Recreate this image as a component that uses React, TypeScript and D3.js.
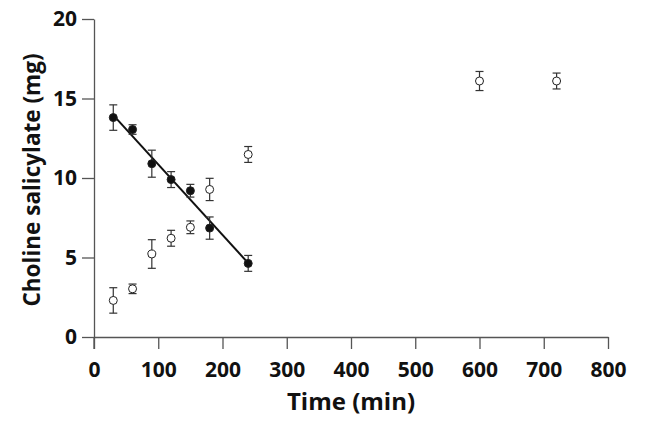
import { useEffect, useRef } from "react";
import * as d3 from "d3";

// time points (min)
const fedTimes = [30, 60, 90, 120, 150, 180, 240];
const fedValues = [13.8, 13.05, 10.9, 9.9, 9.2, 6.85, 4.63];
const fedErrors = [0.8, 0.3, 0.85, 0.5, 0.4, 0.7, 0.5];

const openTimes = [30, 60, 90, 120, 150, 180, 240, 600, 720];
const openValues = [2.3, 3.03, 5.22, 6.21, 6.9, 9.28, 11.48, 16.1, 16.1];
const openErrors = [0.8, 0.3, 0.9, 0.5, 0.4, 0.7, 0.5, 0.6, 0.5];

// fitted line for the filled series
const fitX = [30, 240];
const fitY = [13.95, 4.65];

const xTicks = [0, 100, 200, 300, 400, 500, 600, 700, 800];
const yTicks = [0, 5, 10, 15, 20];

const W = 646;
const H = 426;
const FONT = "'Open Sans', sans-serif";

export default function App() {
  const svgRef = useRef<SVGSVGElement>(null);

  useEffect(() => {
    const svg = d3.select(svgRef.current);
    svg.selectAll("*").remove();

    const x = d3.scaleLinear().domain([0, 800]).range([94, 608]);
    const y = d3.scaleLinear().domain([0, 20]).range([337, 19]);

    svg.append("rect").attr("width", W).attr("height", H).attr("fill", "#fff");

    // axes
    const xAxis = svg
      .append("g")
      .attr("transform", `translate(0,${y(0)})`)
      .call(d3.axisBottom(x).tickValues(xTicks).tickSize(12).tickSizeOuter(0));
    xAxis.selectAll(".tick text").attr("y", 40).attr("dy", 0);
    const yAxis = svg
      .append("g")
      .attr("transform", `translate(${x(0)},0)`)
      .call(d3.axisLeft(y).tickValues(yTicks).tickSize(12).tickSizeOuter(0).tickPadding(5));

    [xAxis, yAxis].forEach((g) => {
      g.selectAll("path, line").attr("stroke", "#555").attr("stroke-width", 1.3);
      g.selectAll("text")
        .attr("font-family", FONT)
        .attr("font-weight", "bold")
        .attr("font-size", 21)
        .attr("fill", "#111");
    });
    // y axis extends a little below the x axis
    svg
      .append("line")
      .attr("x1", x(0))
      .attr("x2", x(0))
      .attr("y1", y(0))
      .attr("y2", y(0) + 12)
      .attr("stroke", "#555")
      .attr("stroke-width", 1.3);

    // titles
    svg
      .append("text")
      .attr("x", (x(0) + x(800)) / 2)
      .attr("y", 410)
      .attr("text-anchor", "middle")
      .attr("font-family", FONT)
      .attr("font-weight", "bold")
      .attr("font-size", 24)
      .attr("fill", "#111")
      .text("Time (min)");
    svg
      .append("text")
      .attr("transform", `translate(40,${(y(0) + y(20)) / 2 + 2}) rotate(-90)`)
      .attr("text-anchor", "middle")
      .attr("font-family", FONT)
      .attr("font-weight", "bold")
      .attr("font-size", 22.5)
      .attr("fill", "#111")
      .text("Choline salicylate (mg)");

    // fit line
    svg
      .append("path")
      .attr("d", d3.line<number>().x((d) => x(d)).y((d, i) => y(fitY[i]))(fitX))
      .attr("stroke", "#111")
      .attr("stroke-width", 2)
      .attr("fill", "none");

    const drawSeries = (ts: number[], vs: number[], es: number[], filled: boolean) => {
      const g = svg.append("g");
      ts.forEach((t, i) => {
        const cx = x(t);
        const top = y(vs[i] + es[i]);
        const bot = y(vs[i] - es[i]);
        g.append("line").attr("x1", cx).attr("x2", cx).attr("y1", top).attr("y2", bot)
          .attr("stroke", "#333").attr("stroke-width", 1.2);
        [top, bot].forEach((yy) =>
          g.append("line").attr("x1", cx - 4).attr("x2", cx + 4).attr("y1", yy).attr("y2", yy)
            .attr("stroke", "#333").attr("stroke-width", 1.2)
        );
        g.append("circle")
          .attr("cx", cx)
          .attr("cy", y(vs[i]))
          .attr("r", 4)
          .attr("fill", filled ? "#111" : "#fff")
          .attr("stroke", "#222")
          .attr("stroke-width", 1);
      });
    };
    drawSeries(openTimes, openValues, openErrors, false);
    drawSeries(fedTimes, fedValues, fedErrors, true);
  }, []);

  return (
    <svg
      ref={svgRef}
      width={W}
      height={H}
      style={{ position: "absolute", left: 0, top: 0, display: "block" }}
    />
  );
}
